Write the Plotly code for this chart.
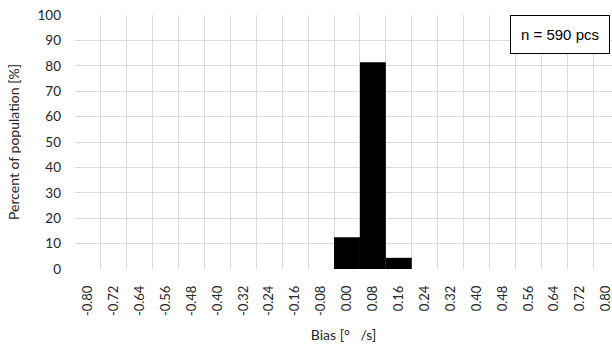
import plotly.graph_objects as go

categories = ["-0.80", "-0.72", "-0.64", "-0.56", "-0.48", "-0.40", "-0.32", "-0.24",
              "-0.16", "-0.08", "0.00", "0.08", "0.16", "0.24", "0.32", "0.40",
              "0.48", "0.56", "0.64", "0.72", "0.80"]
percent = [0, 0, 0, 0, 0, 0, 0, 0, 0, 0, 12.5, 81.4, 4.4, 0, 0, 0, 0, 0, 0, 0, 0]
y_ticks = [0, 10, 20, 30, 40, 50, 60, 70, 80, 90, 100]
n_label = "n = 590 pcs"

pos = list(range(len(categories)))
bounds = [p - 0.5 for p in pos] + [pos[-1] + 0.5]

font = "Lato, Calibri, Carlito, sans-serif"
fig = go.Figure(go.Bar(x=pos, y=percent, width=1, marker=dict(color="black", line=dict(width=0))))

fig.update_layout(
    width=612, height=349,
    margin=dict(l=75, r=0, t=15, b=80),
    paper_bgcolor="white", plot_bgcolor="white",
    showlegend=False,
    font=dict(family=font, size=14, color="#262626"),
)
fig.update_xaxes(
    range=[-0.5, 20.23], automargin=False, ticklabeloverflow="allow",
    tickmode="array", tickvals=pos, ticktext=categories, tickangle=-90,
    tickfont=dict(size=13),
    showgrid=False, zeroline=False, showline=False, ticks="",
    ticklabelstandoff=13,
    minor=dict(tickmode="array", tickvals=bounds, showgrid=True, gridcolor="#d9d9d9", gridwidth=1, ticks=""),
    title=dict(text="Bias [°   /s]", standoff=15, font=dict(size=14)),
)
fig.update_yaxes(
    range=[0, 100], tickmode="array", tickvals=y_ticks, automargin=False, ticklabeloverflow="allow",
    tickfont=dict(size=13.5),
    showgrid=True, gridcolor="#d9d9d9", gridwidth=1, zeroline=False, showline=False, ticks="",
    ticklabelstandoff=13,
    title=dict(text="Percent of population [%]", standoff=14, font=dict(size=14)),
)
fig.add_annotation(
    xref="paper", yref="paper", x=0.996, y=1.0, xanchor="right", yanchor="top",
    text=n_label, showarrow=False,
    font=dict(family="Liberation Sans, Arial, sans-serif", size=15, color="black"),
    bordercolor="black", borderwidth=1, borderpad=10, bgcolor="white",
)
fig.write_html("out.html", config={"displayModeBar": False},
               post_script="document.body.style.margin='0';document.body.style.overflow='hidden';")
